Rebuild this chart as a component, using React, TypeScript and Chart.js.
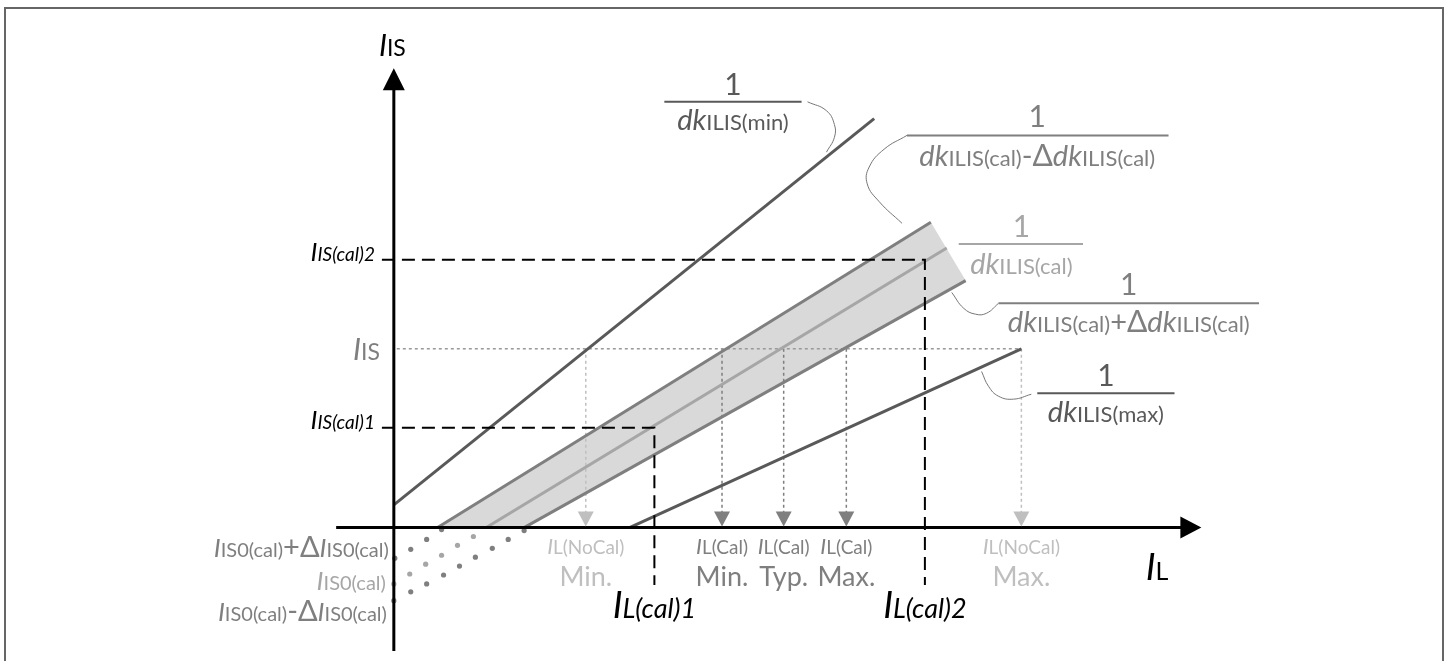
import { useEffect, useRef } from 'react';
import { Chart, registerables } from 'chart.js';
Chart.register(...registerables);

// Units: 1 unit = 10 px of the drawing; origin at the crossing of the axes.
const minLine = [{ x: 0, y: 2.3 }, { x: 48.3, y: 41.4 }];
const calMinusLine = [{ x: 4.4, y: 0 }, { x: 54.0, y: 30.9 }];
const calLine = [{ x: 9.3, y: 0 }, { x: 55.6, y: 28.3 }];
const calPlusLine = [{ x: 13.1, y: 0 }, { x: 57.5, y: 25.0 }];
const maxLine = [{ x: 23.7, y: 0 }, { x: 63.1, y: 18.1 }];

const dotsCalMinus = [{ x: 4.8, y: -0.2 }, { x: 3.3, y: -1.2 }, { x: 1.7, y: -2.2 }, { x: 0.1, y: -3.1 }];
const dotsCal = [{ x: 8.0, y: -0.9 }, { x: 6.4, y: -1.8 }, { x: 4.8, y: -2.8 }, { x: 3.2, y: -3.7 }, { x: 1.6, y: -4.7 }, { x: 0, y: -5.7 }];
const dotsCalPlus = [{ x: 13.1, y: -0.3 }, { x: 11.5, y: -1.2 }, { x: 9.9, y: -2.1 }, { x: 8.2, y: -3.0 }, { x: 6.6, y: -3.9 }, { x: 5.0, y: -4.8 }, { x: 3.3, y: -5.7 }, { x: 1.7, y: -6.5 }, { x: 0, y: -7.4 }];

const cal1 = { x: 26.2, y: 10.1 };
const cal2 = { x: 53.4, y: 27.1 };
const isLevel = 18.1;
const noCalArrows = [19.3, 63.1];
const calArrows = [33.0, 39.2, 45.5];
const calArrowNames = ['Min.', 'Typ.', 'Max.'];
const noCalArrowNames = ['Min.', 'Max.'];

const leaderMin = [{ x: 41.6, y: 43.1 }, { x: 43.5, y: 42.2 }, { x: 44.3, y: 40.8 }, { x: 44.3, y: 39.5 }, { x: 43.5, y: 38.0 }];
const leaderCalMinus = [{ x: 51.6, y: 39.7 }, { x: 49.3, y: 38.3 }, { x: 47.8, y: 36.5 }, { x: 47.6, y: 34.8 }, { x: 48.8, y: 33.0 }, { x: 51.1, y: 30.8 }];
const leaderCalPlus = [{ x: 56.1, y: 23.8 }, { x: 57.3, y: 22.2 }, { x: 58.5, y: 21.6 }, { x: 59.6, y: 21.7 }, { x: 60.8, y: 22.7 }];
const leaderMax = [{ x: 59.1, y: 15.8 }, { x: 59.8, y: 14.3 }, { x: 60.8, y: 13.3 }, { x: 62.3, y: 13.0 }, { x: 64.1, y: 13.5 }];

const FONT = "Lato, 'Open Sans', sans-serif";
const DARK = '#595959';
const MID = '#7f7f7f';
const LIGHT = '#a6a6a6';
const PALE = '#bfbfbf';

type Seg = [string, number, boolean?];

function drawRich(ctx: CanvasRenderingContext2D, segs: Seg[], x: number, y: number, align: string, color: string) {
  const ws = segs.map(([t, s, it]) => {
    ctx.font = `${it ? 'italic ' : ''}${s}px ${FONT}`;
    return ctx.measureText(t).width;
  });
  const total = ws.reduce((a, b) => a + b, 0);
  let cx = align === 'left' ? x : align === 'right' ? x - total : x - total / 2;
  ctx.fillStyle = color;
  ctx.textAlign = 'left';
  ctx.textBaseline = 'alphabetic';
  segs.forEach(([t, s, it], i) => {
    ctx.font = `${it ? 'italic ' : ''}${s}px ${FONT}`;
    ctx.fillText(t, cx, y);
    cx += ws[i];
  });
}

const dk = (sub: string): Seg[] => [['dk', 29, true], ['ILIS' + sub, 22]];

const texts = [
  { x: -1.5, y: 47.7, align: 'left', color: '#000', segs: [['I', 30, true], ['IS', 23]] as Seg[] },
  { x: 75.6, y: -5.3, align: 'left', color: '#000', segs: [['I', 37, true], ['L', 25]] as Seg[] },
  { x: -1.9, y: 27.0, align: 'right', color: '#000', segs: [['I', 26, true], ['IS(cal)2', 19, true]] as Seg[] },
  { x: -1.9, y: 10.0, align: 'right', color: '#000', segs: [['I', 26, true], ['IS(cal)1', 19, true]] as Seg[] },
  { x: -1.4, y: 17.0, align: 'right', color: MID, segs: [['I', 30, true], ['IS', 23]] as Seg[] },
  { x: -0.5, y: -3.0, align: 'right', color: MID, segs: [['I', 26, true], ['IS0(cal)', 20], ['+', 29], ['Δ', 29], ['I', 26, true], ['IS0(cal)', 20]] as Seg[] },
  { x: -0.8, y: -6.3, align: 'right', color: LIGHT, segs: [['I', 26, true], ['IS0(cal)', 20]] as Seg[] },
  { x: -0.7, y: -9.5, align: 'right', color: MID, segs: [['I', 26, true], ['IS0(cal)', 20], ['-', 29], ['Δ', 29], ['I', 26, true], ['IS0(cal)', 20]] as Seg[] },
  { x: cal1.x, y: -9.2, align: 'center', color: '#000', segs: [['I', 37, true], ['L(cal)1', 27, true]] as Seg[] },
  { x: cal2.x, y: -9.2, align: 'center', color: '#000', segs: [['I', 37, true], ['L(cal)2', 27, true]] as Seg[] },
];

const fractions = [
  { cx: 34.1, x0: 27.2, x1: 41.0, bar: 43.1, num: 43.8, den: 40.2, color: DARK, segs: dk('(min)') },
  { cx: 64.7, x0: 51.6, x1: 77.9, bar: 39.7, num: 40.5, den: 36.6, color: MID, segs: [...dk('(cal)'), ['-', 29], ['Δ', 30], ...dk('(cal)')] as Seg[] },
  { cx: 63.1, x0: 56.8, x1: 69.3, bar: 28.7, num: 29.4, den: 25.7, color: LIGHT, segs: dk('(cal)') },
  { cx: 73.9, x0: 60.8, x1: 87.0, bar: 22.7, num: 23.5, den: 19.8, color: MID, segs: [...dk('(cal)'), ['+', 29], ['Δ', 30], ...dk('(cal)')] as Seg[] },
  { cx: 71.6, x0: 64.7, x1: 78.5, bar: 13.6, num: 14.3, den: 10.7, color: DARK, segs: dk('(max)') },
];

const overlay = {
  id: 'overlay',
  beforeDraw(chart: any) {
    const ctx = chart.ctx as CanvasRenderingContext2D;
    ctx.save();
    ctx.fillStyle = '#fff';
    ctx.fillRect(0, 0, chart.width, chart.height);
    ctx.strokeStyle = '#666';
    ctx.lineWidth = 2;
    ctx.strokeRect(5, 8, 1438, 720);
    ctx.restore();
  },
  afterDatasetsDraw(chart: any) {
    const ctx = chart.ctx as CanvasRenderingContext2D;
    const sx = chart.scales.x, sy = chart.scales.y;
    const px = (v: number) => sx.getPixelForValue(v);
    const py = (v: number) => sy.getPixelForValue(v);
    ctx.save();
    const tri = (x1: number, y1: number, x2: number, y2: number, x3: number, y3: number, c: string) => {
      ctx.fillStyle = c;
      ctx.beginPath();
      ctx.moveTo(x1, y1); ctx.lineTo(x2, y2); ctx.lineTo(x3, y3);
      ctx.closePath();
      ctx.fill();
    };
    const ox = px(0), oy = py(0);
    const ty = py(46.5);
    tri(ox, ty, ox - 11, ty + 22, ox + 11, ty + 22, '#000');
    const tx = px(81.2);
    tri(tx, oy, tx - 21, oy - 11, tx - 21, oy + 11, '#000');
    noCalArrows.forEach((v) => { const x = px(v); tri(x, oy - 1, x - 8, oy - 16, x + 8, oy - 16, PALE); });
    calArrows.forEach((v) => { const x = px(v); tri(x, oy - 1, x - 8, oy - 16, x + 8, oy - 16, MID); });
    noCalArrows.forEach((v, i) => {
      drawRich(ctx, [['I', 22, true], ['L(NoCal)', 19]], px(v), py(-2.7), 'center', PALE);
      drawRich(ctx, [[noCalArrowNames[i], 27]], px(v), py(-5.9), 'center', PALE);
    });
    calArrows.forEach((v, i) => {
      drawRich(ctx, [['I', 22, true], ['L(Cal)', 19]], px(v), py(-2.7), 'center', MID);
      drawRich(ctx, [[calArrowNames[i], 27]], px(v), py(-5.9), 'center', MID);
    });
    texts.forEach((t) => drawRich(ctx, t.segs, px(t.x), py(t.y), t.align, t.color));
    fractions.forEach((f) => {
      ctx.strokeStyle = f.color;
      ctx.lineWidth = 2;
      ctx.beginPath();
      ctx.moveTo(px(f.x0), py(f.bar));
      ctx.lineTo(px(f.x1), py(f.bar));
      ctx.stroke();
      drawRich(ctx, [['1', 30]], px(f.cx), py(f.num), 'center', f.color);
      drawRich(ctx, f.segs, px(f.cx), py(f.den), 'center', f.color);
    });
    ctx.restore();
  },
};

const lineDs = (data: any[], color: string, width: number, order: number, extra: any = {}) => ({
  data, showLine: true, borderColor: color, borderWidth: width, pointRadius: 0, fill: false, order, ...extra,
});
const dotDs = (data: any[], color: string) => ({
  data, showLine: false, pointRadius: 2.6, pointBackgroundColor: color, pointBorderWidth: 0, order: 3,
});

export default function App() {
  const ref = useRef<HTMLCanvasElement>(null);
  useEffect(() => {
    const band = [...calMinusLine, ...[...calPlusLine].reverse(), calMinusLine[0]];
    const dashedPath = (c: { x: number; y: number }) => [{ x: -1.2, y: c.y }, { x: c.x, y: c.y }, { x: c.x, y: -5.8 }];
    const datasets: any[] = [
      lineDs(band, 'rgba(0,0,0,0)', 0, 20, { fill: 'shape', backgroundColor: '#d9d9d9' }),
      lineDs([{ x: 0.3, y: isLevel }, { x: noCalArrows[1], y: isLevel }], '#999', 1.5, 8, { borderDash: [3, 3] }),
      ...noCalArrows.map((v) => lineDs([{ x: v, y: isLevel }, { x: v, y: 1.2 }], PALE, 1.5, 8, { borderDash: [3, 3] })),
      ...calArrows.map((v) => lineDs([{ x: v, y: isLevel }, { x: v, y: 1.2 }], MID, 1.5, 8, { borderDash: [3, 3] })),
      lineDs(minLine, DARK, 3, 5),
      lineDs(maxLine, DARK, 3, 5),
      lineDs(calMinusLine, MID, 3, 5),
      lineDs(calPlusLine, MID, 3, 5),
      lineDs(calLine, LIGHT, 3, 5),
      dotDs(dotsCalMinus, MID),
      dotDs(dotsCal, LIGHT),
      dotDs(dotsCalPlus, MID),
      lineDs(dashedPath(cal1), '#000', 2, 4, { borderDash: [13, 7] }),
      lineDs(dashedPath(cal2), '#000', 2, 4, { borderDash: [13, 7] }),
      lineDs([{ x: -5.8, y: 0 }, { x: 79.5, y: 0 }], '#000', 3, 2),
      lineDs([{ x: 0, y: -12.5 }, { x: 0, y: 44.6 }], '#000', 3, 2),
      ...[leaderMin, leaderCalMinus, leaderCalPlus, leaderMax].map((d) => lineDs(d, '#777', 1, 6, { tension: 0.45 })),
    ];
    const chart = new Chart(ref.current as HTMLCanvasElement, {
      type: 'scatter',
      data: { datasets },
      options: {
        animation: false,
        responsive: false,
        events: [],
        layout: { padding: 0 },
        plugins: { legend: { display: false }, tooltip: { enabled: false } },
        scales: {
          x: { type: 'linear', min: -39.2, max: 105.8, display: false },
          y: { type: 'linear', min: -13.1, max: 53, display: false },
        },
      },
      plugins: [overlay],
    } as any);
    return () => chart.destroy();
  }, []);
  return (
    <div style={{ position: 'fixed', left: 0, top: 0, width: 1450, height: 661, background: '#fff' }}>
      <canvas ref={ref} width={1450} height={661} style={{ display: 'block' }} />
    </div>
  );
}
